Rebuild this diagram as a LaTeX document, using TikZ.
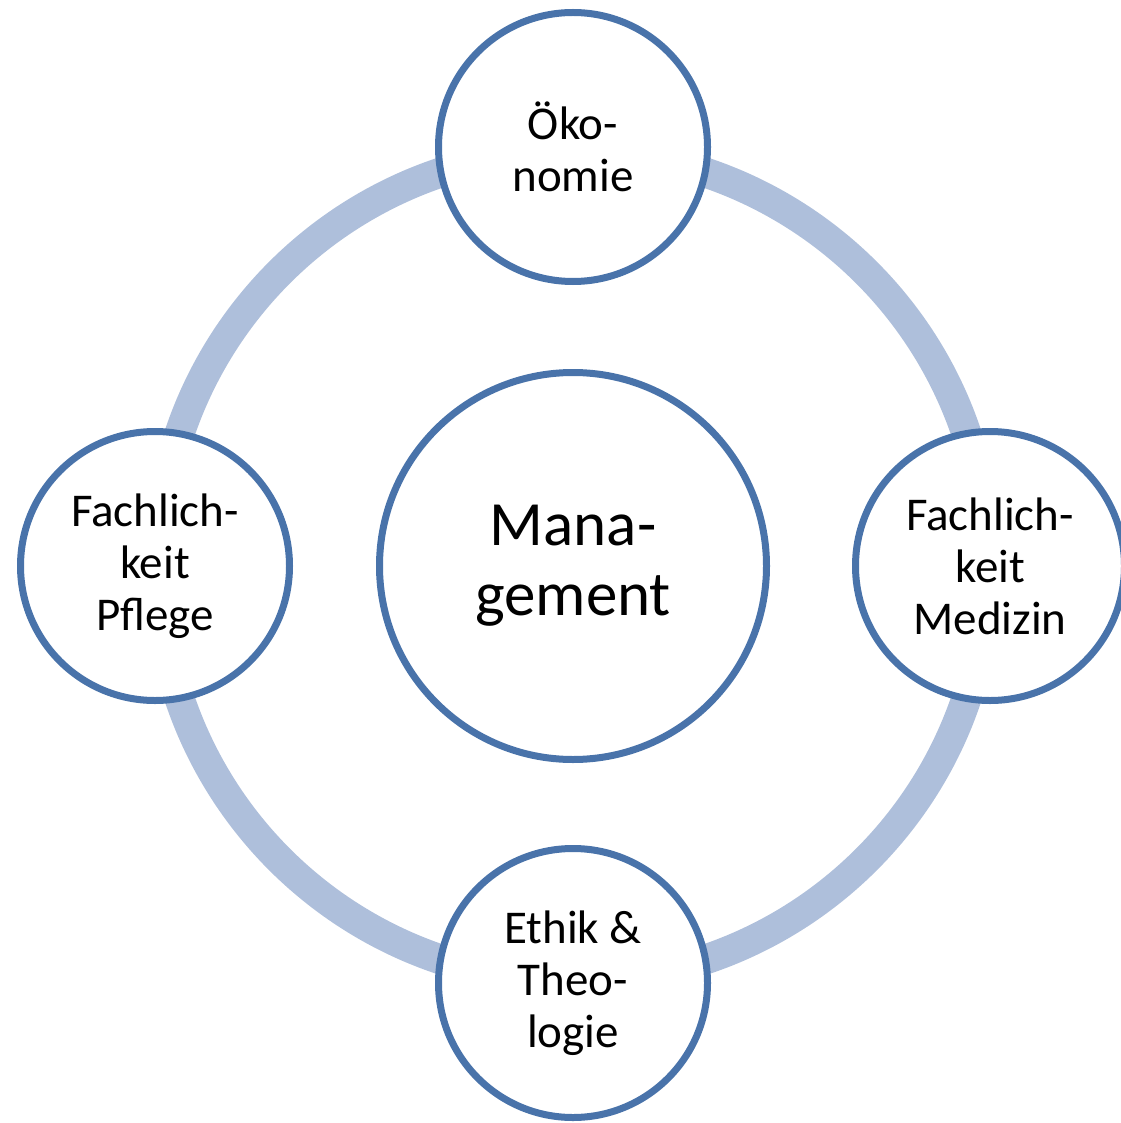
\documentclass[tikz,border=0pt]{standalone}
\usepackage{fontspec}
\setmainfont{Carlito}
\usetikzlibrary{shadows}
\definecolor{ringblue}{RGB}{174,191,219}
\definecolor{edgeblue}{RGB}{73,115,170}
\begin{document}
\begin{tikzpicture}[x=1pt,y=-1pt,
  bubble/.style={circle,draw=edgeblue,line width=7pt,fill=white,
    minimum size=269pt,inner sep=0pt,align=center,
    font=\fontsize{47}{52}\selectfont,
    drop shadow={opacity=0.18,shadow xshift=0pt,shadow yshift=-3pt}},
  hub/.style={bubble,minimum size=387pt,font=\fontsize{63}{70}\selectfont}]
\useasboundingbox (0,0) rectangle (1120,1123);
\coordinate (c) at (573,566);
\draw[ringblue,line width=30pt] (c) circle [radius=415pt];
\node[bubble] (oek) at (573,147) {Öko-\\nomie};
\node[bubble] (pfl) at (155,566) {Fachlich-\\keit\\Pflege};
\node[bubble] (med) at (990,566) {Fachlich-\\keit\\Medizin};
\node[bubble] (eth) at (573,983) {Ethik \&\\Theo-\\logie};
\node[hub] (man) at (c) {Mana-\\gement};
\end{tikzpicture}
\end{document}
